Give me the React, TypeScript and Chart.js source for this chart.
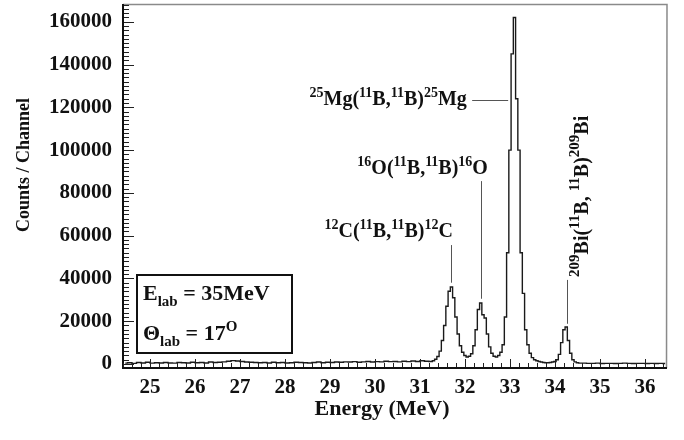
import React, { useEffect, useRef } from 'react';
import { Chart, registerables } from 'chart.js';

Chart.register(...registerables);

// ---- Data (histogram channel contents, counts per channel) ----
// low-energy background, channel centres every 0.1 MeV from 24.45 MeV
const bgLowStart = 24.45;
const bgLowStep = 0.1;
const bgLowCounts = [
  400, 600, 300, 700, 500, 800, 400, 600, 500, 700,
  500, 400, 700, 600, 500, 800, 600, 700, 500, 900,
  700, 800, 1000, 1300, 1600, 1400, 1200, 900, 800, 700,
  600, 700, 500, 800, 600, 700, 500, 600, 800, 700,
  600, 500, 700, 900, 600, 800, 700, 900, 800, 1000,
  900, 1100, 800, 1000, 1200, 900, 1100, 1000, 1300, 1100,
  1200, 1000, 1300, 1100, 1400, 1200, 1500, 1300,
];

// peak region, channel centres every 0.05 MeV from 31.25 MeV
const peakStart = 31.25;
const peakStep = 0.05;
const peakCounts = [
  1200, 1500, 2200, 3500, 6000, 11000, 18000, 27000, 34000, 36000,
  31000, 22000, 14000, 8500, 5500, 4000, 3300, 3600, 4800, 8500,
  16000, 25500, 28500, 23000, 21500, 14000, 8000, 5000, 3600, 3300,
  4000, 5500, 9000, 22000, 52000, 100000, 145000, 162000, 124000, 100000,
  52000, 33000, 16000, 9000, 5000, 3000, 2000, 1500, 1200, 900,
  700, 600, 600, 700, 900, 1200, 2000, 4500, 10000, 16000,
  17300, 11000, 5000, 2000, 1000, 600, 400,
];

// high-energy tail, channel centres every 0.1 MeV from 34.65 MeV
const bgHighStart = 34.65;
const bgHighStep = 0.1;
const bgHighCounts = [
  400, 300, 300, 400, 200, 300, 300, 200, 300, 400,
  300, 200, 300, 300, 200, 300, 200, 300, 200,
];

const xTickValues = [25, 26, 27, 28, 29, 30, 31, 32, 33, 34, 35, 36];
const yTickValues = [0, 20000, 40000, 60000, 80000, 100000, 120000, 140000, 160000];

const X_MIN = 24.4;
const X_MAX = 36.49;
const Y_MIN = -1870;
const Y_MAX = 168300;

const SERIF = '"Liberation Serif", "Times New Roman", serif';

type Seg = { t: string; k?: 'sup' | 'sub' };

const labelC: Seg[] = [
  { t: '12', k: 'sup' }, { t: 'C(' }, { t: '11', k: 'sup' }, { t: 'B,' },
  { t: '11', k: 'sup' }, { t: 'B)' }, { t: '12', k: 'sup' }, { t: 'C' },
];
const labelO: Seg[] = [
  { t: '16', k: 'sup' }, { t: 'O(' }, { t: '11', k: 'sup' }, { t: 'B,' },
  { t: '11', k: 'sup' }, { t: 'B)' }, { t: '16', k: 'sup' }, { t: 'O' },
];
const labelMg: Seg[] = [
  { t: '25', k: 'sup' }, { t: 'Mg(' }, { t: '11', k: 'sup' }, { t: 'B,' },
  { t: '11', k: 'sup' }, { t: 'B)' }, { t: '25', k: 'sup' }, { t: 'Mg' },
];
const labelBi: Seg[] = [
  { t: '209', k: 'sup' }, { t: 'Bi(' }, { t: '11', k: 'sup' }, { t: 'B, ' },
  { t: '11', k: 'sup' }, { t: 'B)' }, { t: '209', k: 'sup' }, { t: 'Bi' },
];

function buildPoints() {
  const pts: { x: number; y: number }[] = [];
  bgLowCounts.forEach((c, i) => pts.push({ x: +(bgLowStart + i * bgLowStep).toFixed(3), y: c }));
  peakCounts.forEach((c, i) => pts.push({ x: +(peakStart + i * peakStep).toFixed(3), y: c }));
  bgHighCounts.forEach((c, i) => pts.push({ x: +(bgHighStart + i * bgHighStep).toFixed(3), y: c }));
  return pts;
}

function drawRich(
  ctx: CanvasRenderingContext2D,
  segs: Seg[],
  x: number,
  y: number,
  align: 'left' | 'center' | 'right',
  base: number,
  small: number,
) {
  const fMain = `bold ${base}px ${SERIF}`;
  const fSmall = `bold ${small}px ${SERIF}`;
  const widths = segs.map((s) => {
    ctx.font = s.k ? fSmall : fMain;
    return ctx.measureText(s.t).width;
  });
  const total = widths.reduce((a, b) => a + b, 0);
  let cx = align === 'center' ? x - total / 2 : align === 'right' ? x - total : x;
  ctx.textAlign = 'left';
  ctx.textBaseline = 'alphabetic';
  segs.forEach((s, i) => {
    ctx.font = s.k ? fSmall : fMain;
    const dy = s.k === 'sup' ? -base * 0.42 : s.k === 'sub' ? base * 0.28 : 0;
    ctx.fillText(s.t, cx, y + dy);
    cx += widths[i];
  });
}

const decorPlugin = {
  id: 'decor',
  afterDraw(chart: any) {
    const ctx: CanvasRenderingContext2D = chart.ctx;
    const xs = chart.scales.x;
    const ys = chart.scales.y;
    const ca = chart.chartArea;
    ctx.save();

    // frame
    ctx.strokeStyle = '#8a8a8a';
    ctx.lineWidth = 1.5;
    ctx.beginPath();
    ctx.moveTo(ca.left, ca.top + 0.5);
    ctx.lineTo(ca.right, ca.top + 0.5);
    ctx.lineTo(ca.right - 0.5, ca.bottom);
    ctx.stroke();
    ctx.fillStyle = '#111';
    ctx.fillRect(ca.left - 1, ca.top, 2, ca.bottom - ca.top + 1);
    ctx.fillRect(ca.left - 1, ca.bottom - 1, ca.right - ca.left + 1, 2);

    // inward ticks
    ctx.strokeStyle = '#222';
    ctx.lineWidth = 1;
    ctx.beginPath();
    for (let k = Math.ceil(X_MIN * 5); k <= Math.floor(X_MAX * 5); k++) {
      const px = Math.round(xs.getPixelForValue(k / 5)) + 0.5;
      const len = k % 5 === 0 ? 8 : 4;
      ctx.moveTo(px, ca.bottom - 1);
      ctx.lineTo(px, ca.bottom - 1 - len);
    }
    for (let k = 0; k * 2000 <= Y_MAX; k++) {
      const py = Math.round(ys.getPixelForValue(k * 2000)) + 0.5;
      const len = k % 10 === 0 ? 10 : 5;
      ctx.moveTo(ca.left + 1, py);
      ctx.lineTo(ca.left + 1 + len, py);
    }
    ctx.stroke();

    // peak labels and leader lines
    ctx.fillStyle = '#111';
    ctx.strokeStyle = '#555';
    ctx.lineWidth = 1;
    const X = (v: number) => xs.getPixelForValue(v);
    const Y = (v: number) => ys.getPixelForValue(v);

    // 12C
    drawRich(ctx, labelC, X(31.73), Y(59400), 'right', 20, 14);
    ctx.beginPath();
    ctx.moveTo(Math.round(X(31.68)) + 0.5, Y(55600));
    ctx.lineTo(Math.round(X(31.68)) + 0.5, Y(38000));
    ctx.stroke();

    // 16O
    drawRich(ctx, labelO, X(32.51), Y(88800), 'right', 20, 14);
    ctx.beginPath();
    ctx.moveTo(Math.round(X(32.36)) + 0.5, Y(85500));
    ctx.lineTo(Math.round(X(32.36)) + 0.5, Y(30500));
    ctx.stroke();

    // 25Mg
    drawRich(ctx, labelMg, X(32.04), Y(121100), 'right', 20, 14);
    ctx.beginPath();
    ctx.moveTo(X(32.16), Math.round(Y(123400)) + 0.5);
    ctx.lineTo(X(32.96), Math.round(Y(123400)) + 0.5);
    ctx.stroke();

    // 209Bi (rotated)
    ctx.beginPath();
    ctx.moveTo(Math.round(X(34.27)) + 0.5, Y(39300));
    ctx.lineTo(Math.round(X(34.27)) + 0.5, Y(18800));
    ctx.stroke();
    ctx.save();
    ctx.translate(X(34.73), Y(40700));
    ctx.rotate(-Math.PI / 2);
    drawRich(ctx, labelBi, 0, 0, 'left', 20, 15);
    ctx.restore();

    // info box
    const bx = ca.left + 14;
    const by = ca.bottom - 93;
    const bw = 155;
    const bh = 78;
    ctx.strokeStyle = '#111';
    ctx.lineWidth = 2;
    ctx.strokeRect(bx, by, bw, bh);
    ctx.fillStyle = '#111';
    drawRich(ctx, [{ t: 'E' }, { t: 'lab', k: 'sub' }, { t: ' = 35MeV' }], bx + 6, by + 25, 'left', 22, 15);
    drawRich(ctx, [{ t: 'Θ' }, { t: 'lab', k: 'sub' }, { t: ' = 17' }, { t: 'O', k: 'sup' }], bx + 6, by + 65, 'left', 22, 15);

    // axis titles
    ctx.fillStyle = '#111';
    ctx.textAlign = 'center';
    ctx.textBaseline = 'middle';
    ctx.font = `bold 22px ${SERIF}`;
    ctx.fillText('Energy (MeV)', 382, 409);
    ctx.save();
    ctx.translate(24, 165);
    ctx.rotate(-Math.PI / 2);
    ctx.font = `bold 18px ${SERIF}`;
    ctx.fillText('Counts / Channel', 0, 0);
    ctx.restore();

    ctx.restore();
  },
};

export default function App() {
  const ref = useRef<HTMLCanvasElement | null>(null);

  useEffect(() => {
    if (!ref.current) return;
    const chart = new Chart(ref.current, {
      type: 'line',
      data: {
        datasets: [
          {
            data: buildPoints(),
            borderColor: '#1a1a1a',
            borderWidth: 1.4,
            pointRadius: 0,
            stepped: 'middle',
            fill: false,
            tension: 0,
          },
        ],
      },
      options: {
        animation: false,
        responsive: false,
        devicePixelRatio: 1,
        layout: { padding: { top: 4, right: 17, bottom: 0, left: 0 } },
        plugins: { legend: { display: false }, tooltip: { enabled: false } },
        scales: {
          x: {
            type: 'linear',
            min: X_MIN,
            max: X_MAX,
            grid: { display: false, drawTicks: false },
            border: { display: false },
            afterBuildTicks: (scale: any) => {
              scale.ticks = xTickValues.map((v) => ({ value: v }));
            },
            afterFit: (scale: any) => {
              scale.height = 72;
              scale.paddingLeft = 0;
              scale.paddingRight = 0;
              scale.paddingTop = 0;
              scale.paddingBottom = 0;
            },
            ticks: {
              autoSkip: false,
              maxRotation: 0,
              padding: 7,
              color: '#111',
              font: { family: 'Liberation Serif', size: 21, weight: 'bold' },
              callback: (v: any) => String(v),
            },
          },
          y: {
            type: 'linear',
            min: Y_MIN,
            max: Y_MAX,
            grid: { display: false, drawTicks: false },
            border: { display: false },
            afterBuildTicks: (scale: any) => {
              scale.ticks = yTickValues.map((v) => ({ value: v }));
            },
            afterFit: (scale: any) => {
              scale.width = 123;
              scale.paddingLeft = 0;
              scale.paddingRight = 0;
              scale.paddingTop = 0;
              scale.paddingBottom = 0;
            },
            ticks: {
              padding: 11,
              color: '#111',
              font: { family: 'Liberation Serif', size: 21, weight: 'bold' },
              callback: (v: any) => String(v),
            },
          },
        },
      },
      plugins: [decorPlugin],
    });
    return () => chart.destroy();
  }, []);

  return (
    <div style={{ position: 'fixed', left: 0, top: 0, width: 684, height: 440, background: '#fff' }}>
      <canvas ref={ref} width={684} height={440} style={{ width: 684, height: 440 }} />
    </div>
  );
}
